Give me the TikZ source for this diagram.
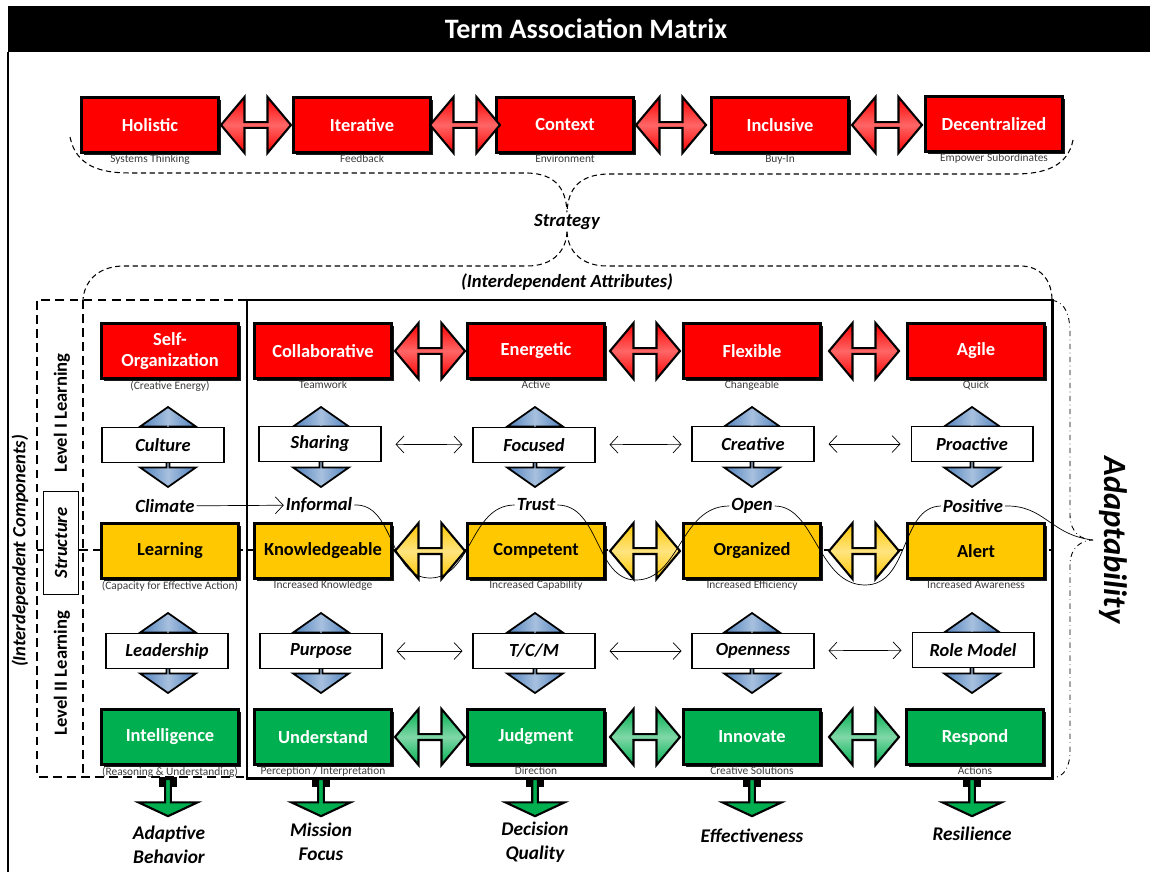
\documentclass[tikz,border=0pt]{standalone}
\usepackage{fontspec}
\setmainfont{Carlito}
\usetikzlibrary{arrows.meta,shapes.arrows,shadows}
\definecolor{boxred}{RGB}{255,0,0}
\definecolor{boxgold}{RGB}{255,200,0}
\definecolor{boxgreen}{RGB}{0,176,80}
\definecolor{arrblue}{RGB}{79,129,189}
\definecolor{subgray}{RGB}{60,60,60}
\tikzset{inner sep=1pt}

\begin{document}
\begin{tikzpicture}[
    x=0.02cm, y=-0.02cm,
    term/.style={rectangle, draw=black, line width=1.3pt, minimum width=2.74cm, minimum height=1.1cm, align=center,
        font=\bfseries\fontsize{10.5}{11.5}\selectfont,
        drop shadow={shadow xshift=1.2pt, shadow yshift=-1.2pt, opacity=0.9, fill=black}},
    redterm/.style={term, fill=boxred, text=white},
    goldterm/.style={term, fill=boxgold, text=black},
    greenterm/.style={term, fill=boxgreen, text=white},
    quality/.style={rectangle, draw=black, line width=0.6pt, fill=white, minimum width=2.44cm, minimum height=0.7cm,
        font=\bfseries\itshape\fontsize{10.5}{12}\selectfont},
    sub/.style={font=\fontsize{6.5}{7}\selectfont, text=subgray, inner sep=0.5pt},
    tag/.style={font=\bfseries\itshape\fontsize{10.6}{12}\selectfont},
    level/.style={font=\bfseries\fontsize{10.6}{12}\selectfont, rotate=90},
    outcome/.style={font=\bfseries\itshape\fontsize{11}{13.5}\selectfont, align=center},
    link/.style={double arrow, draw=black, line width=1.2pt, minimum height=1.4cm, minimum width=1.12cm,
        double arrow head extend=0.18cm, double arrow tip angle=100, inner sep=0pt},
    redlink/.style={link, top color=boxred, bottom color=boxred, middle color=boxred!60!white},
    goldlink/.style={link, top color=boxgold, bottom color=boxgold, middle color=boxgold!50!white},
    greenlink/.style={link, top color=boxgreen, bottom color=boxgreen, middle color=boxgreen!50!white},
    updown/.style={double arrow, shape border rotate=90, draw=black, line width=1pt, minimum height=1.6cm,
        minimum width=1.12cm, double arrow head extend=0.3cm, double arrow tip angle=110, inner sep=0pt,
        left color=arrblue, right color=arrblue, middle color=arrblue!50!white},
    outflow/.style={single arrow, shape border rotate=270, draw=black, line width=1.2pt, fill=boxgreen,
        minimum height=0.74cm, minimum width=1.18cm, single arrow head extend=0.2cm, single arrow tip angle=130,
        inner sep=0pt},
    pair/.style={{Straight Barb[length=1.6mm,width=3.4mm]}-{Straight Barb[length=1.6mm,width=3.4mm]}, thin,
        shorten <=0.28cm, shorten >=0.2cm},
    brace/.style={line width=0.6pt, dash pattern=on 3pt off 2pt},
    thickdash/.style={line width=1.6pt, dash pattern=on 5pt off 3pt}
    ]
    \useasboundingbox (0,0) rectangle (1158,872);
    \fill[black] (8,6) rectangle (1150,52);
    \node[text=white, font=\bfseries\fontsize{16}{18}\selectfont] (title) at (586,29) {Term Association Matrix};
    \draw[line width=0.8pt] (8,52) -- (8,872);

    \node[redterm, label={[sub]below:Systems Thinking}] (holistic) at (150,125) {Holistic};
    \node[redterm, label={[sub]below:Feedback}] (iterative) at (362,125) {Iterative};
    \node[redterm, label={[sub]below:Environment}] (context) at (565,125) {Context};
    \node[redterm, label={[sub]below:Buy-In}] (inclusive) at (780,125) {Inclusive};
    \node[redterm, label={[sub]below:Empower Subordinates}] (decentral) at (994,124) {Decentralized};
    \node[redlink] (hi) at (256,125) {};
    \node[redlink] (ic) at (465,125) {};
    \node[redlink] (ci) at (671,125) {};
    \node[redlink] (id) at (887,125) {};

    \node[tag] (strategy) at (567,222) {Strategy};
    \draw[brace] (70,137) .. controls (76,166) and (100,173) .. (130,173) -- (528,173)
        .. controls (555,174) and (566,188) .. (strategy.north);
    \draw[brace] (1073,140) .. controls (1068,166) and (1045,174) .. (1015,174) -- (607,174)
        .. controls (580,175) and (568,188) .. (strategy.north);
    \node[tag] (attributes) at (567,282) {(Interdependent Attributes)};
    \draw[brace] (strategy.south) .. controls (566,252) and (552,266) .. (527,266) -- (122,266)
        .. controls (96,267) and (84,283) .. (83,300);
    \draw[brace] (strategy.south) .. controls (568,252) and (582,266) .. (607,266) -- (1022,266)
        .. controls (1043,267) and (1052,283) .. (1052,300);

    \draw[thickdash] (37,550) -- (1052,550);
    \draw[line width=1.7pt] (247,300) rectangle (1052,778);
    \draw[thickdash] (247,300) -- (37,300) -- (37,777) -- (247,777);
    \draw[thickdash] (83,300) -- (83,777);

    \coordinate (tip) at (1093,540);
    \draw[dash dot, line width=0.5pt] (1052,300) .. controls (1066,303) and (1070,315) .. (1070,335) -- (1070,515)
        .. controls (1070,533) and (1082,540) .. (tip) .. controls (1082,540) and (1070,547) .. (1070,565)
        -- (1070,750) .. controls (1070,768) and (1064,777) .. (1052,778);
    \node[font=\bfseries\itshape\fontsize{18.5}{20}\selectfont, rotate=-90] (adaptability) at (1113,540) {Adaptability};

    \node[font=\bfseries\itshape\fontsize{10.6}{12}\selectfont, rotate=90] (components) at (20,551) {(Interdependent Components)};
    \node[level] (levelone) at (62,413) {Level I Learning};
    \node[tag, rotate=90, draw, line width=0.6pt, fill=white, minimum width=2.06cm, minimum height=0.7cm] (structure) at (61,543) {Structure};
    \node[level] (leveltwo) at (62,673) {Level II Learning};

    \foreach \c [count=\i] in {168,321,535,752,972} {
        \node[updown] (upper\i) at (\c,447) {};
        \node[updown] (lower\i) at (\c,653) {};
        \fill[black] (\c-9,777) rectangle (\c+9,787);
        \node[outflow] (out\i) at (\c,797) {};
    }

    \node[redterm, label={[sub]below:(Creative Energy)}] (selforg) at (170,351) {Self-\\Organization};
    \node[redterm, label={[sub]below:Teamwork}] (collab) at (323,351) {Collaborative};
    \node[redterm, label={[sub]below:Active}] (energetic) at (536,351) {Energetic};
    \node[redterm, label={[sub]below:Changeable}] (flexible) at (752,351) {Flexible};
    \node[redterm, label={[sub]below:Quick}] (agile) at (976,351) {Agile};
    \node[redlink] (ce) at (430,351) {};
    \node[redlink] (ef) at (645,351) {};
    \node[redlink] (fa) at (864,351) {};

    \node[quality] (culture) at (163,445) {Culture};
    \node[quality] (sharing) at (320,444) {Sharing};
    \node[quality] (focused) at (534,445) {Focused};
    \node[quality] (creative) at (753,444) {Creative};
    \node[quality] (proactive) at (972,444) {Proactive};
    \draw[pair] (sharing) -- (focused);
    \draw[pair] (focused) -- (creative);
    \draw[pair] (creative) -- (proactive);

    \node[tag] (climate) at (165,506) {Climate};
    \node[tag] (informal) at (319,505) {Informal};
    \node[tag] (trust) at (536,505) {Trust};
    \node[tag] (open) at (752,506) {Open};
    \node[tag] (positive) at (973,506) {Positive};
    \draw[-{Straight Barb[length=1.6mm,width=3.4mm]}, thin] (climate) -- (informal);

    \node[goldterm, label={[sub]below:(Capacity for Effective Action)}] (learning) at (170,551) {Learning};
    \node[goldterm, label={[sub]below:Increased Knowledge}] (knowledge) at (323,551) {Knowledgeable};
    \node[goldterm, label={[sub]below:Increased Capability}] (competent) at (536,551) {Competent};
    \node[goldterm, label={[sub]below:Increased Efficiency}] (organized) at (752,551) {Organized};
    \node[goldterm, label={[sub]below:Increased Awareness}] (alert) at (976,551) {Alert};
    \node[goldlink] (kc) at (430,551) {};
    \node[goldlink] (co) at (645,551) {};
    \node[goldlink] (oa) at (864,551) {};

    \draw[thin] (informal.east) .. controls (395,503) and (388,578) .. (430,578)
        .. controls (472,578) and (470,505) .. (trust.west);
    \draw[thin] (trust.east) .. controls (600,505) and (595,580) .. (636,580)
        .. controls (680,580) and (680,506) .. (open.west);
    \draw[thin] (open.east) .. controls (815,506) and (818,585) .. (865,585)
        .. controls (910,585) and (900,507) .. (positive.west);
    \draw[thin] (positive.east) .. controls (1045,505) and (1050,535) .. (tip);

    \node[quality] (leadership) at (167,651) {Leadership};
    \node[quality] (purpose) at (321,651) {Purpose};
    \node[quality] (tcm) at (534,651) {T/C/M};
    \node[quality] (openness) at (753,651) {Openness};
    \node[quality] (rolemodel) at (973,650) {Role Model};
    \draw[pair] (purpose) -- (tcm);
    \draw[pair] (tcm) -- (openness);
    \draw[pair] (openness) -- (rolemodel);

    \node[greenterm, label={[sub]below:(Reasoning \& Understanding)}] (intelligence) at (170,737) {Intelligence};
    \node[greenterm, label={[sub]below:Perception / Interpretation}] (understand) at (323,737) {Understand};
    \node[greenterm, label={[sub]below:Direction}] (judgment) at (536,737) {Judgment};
    \node[greenterm, label={[sub]below:Creative Solutions}] (innovate) at (752,737) {Innovate};
    \node[greenterm, label={[sub]below:Actions}] (respond) at (975,737) {Respond};
    \node[greenlink] (uj) at (430,737) {};
    \node[greenlink] (ji) at (645,737) {};
    \node[greenlink] (ir) at (864,737) {};

    \node[outcome] (adaptive) at (169,845) {Adaptive\\Behavior};
    \node[outcome] (mission) at (321,842) {Mission\\Focus};
    \node[outcome] (decision) at (535,842) {Decision\\Quality};
    \node[outcome] (effective) at (752,836) {Effectiveness};
    \node[outcome] (resilience) at (972,834) {Resilience};
\end{tikzpicture}
\end{document}
